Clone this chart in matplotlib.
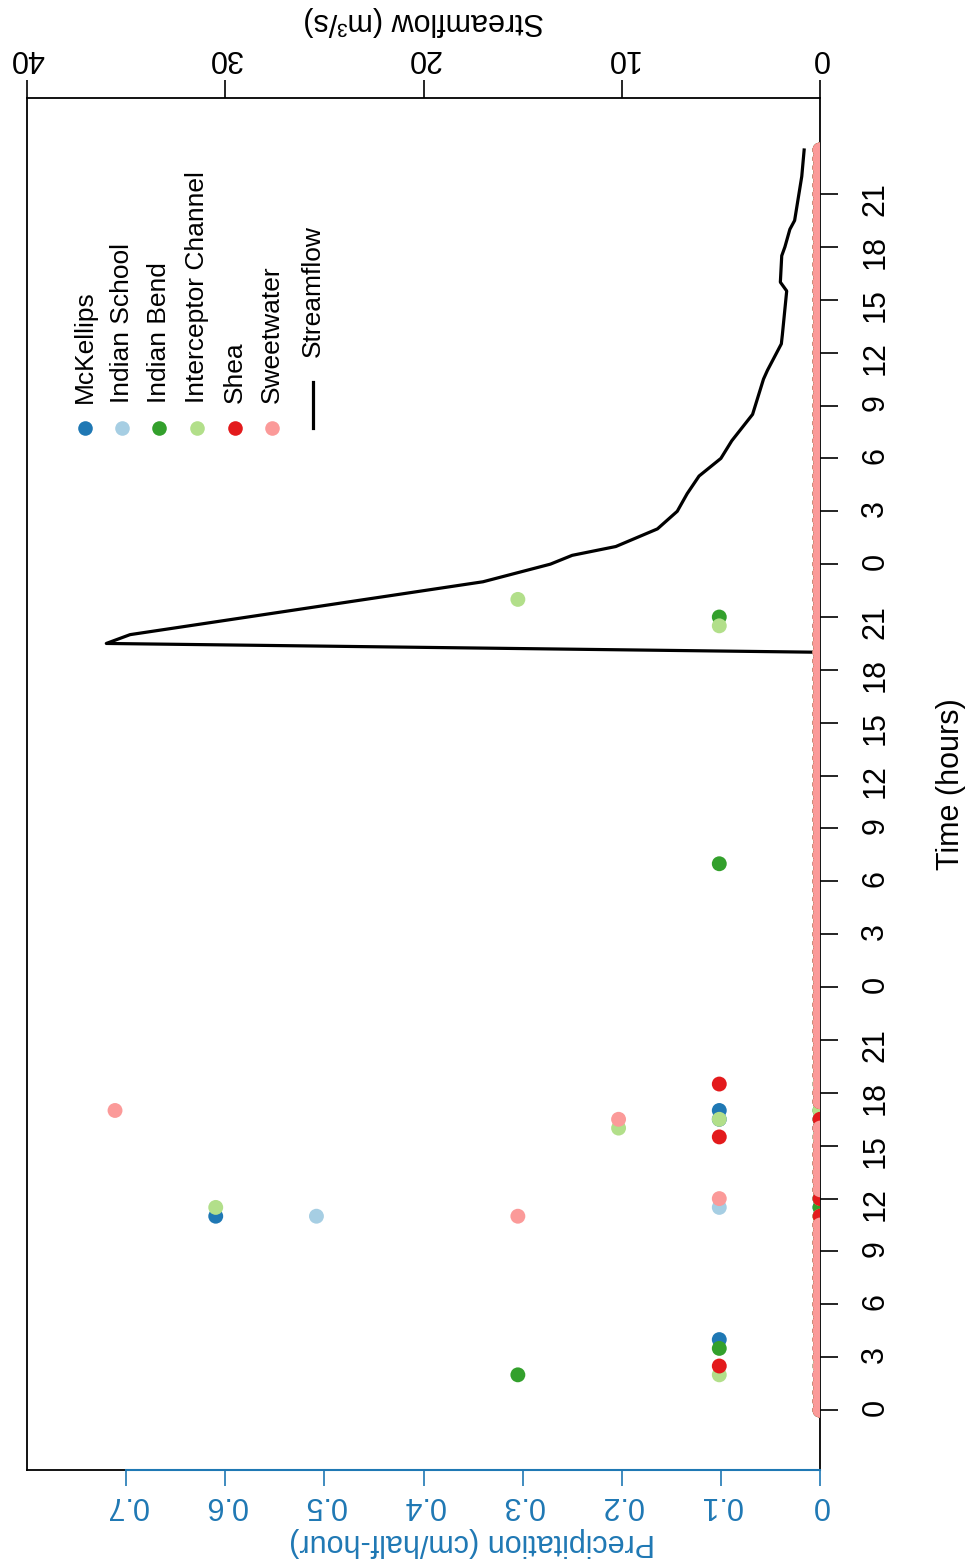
"""Rainfall at six gauges and streamflow, drawn turned on its side like the source figure."""

import matplotlib

matplotlib.use("Agg")
import matplotlib.pyplot as plt
import numpy as np

plt.rcParams["font.family"] = ["Liberation Sans", "DejaVu Sans"]

# Half-hourly time index (hours since midnight of day 1)
hours = np.arange(0, 72, 0.5)

# Non-zero gauge readings (cm per half hour); every other reading is 0
station_names = ["McKellips", "Indian School", "Indian Bend",
                 "Interceptor Channel", "Shea", "Sweetwater"]
station_colors = ["#1F78B4", "#A6CEE3", "#33A02C", "#B2DF8A", "#E31A1C", "#FB9A99"]

mckellips_hours = [4.0, 11.0, 16.5, 17.0]
mckellips_vals = [0.1016, 0.6096, 0.1016, 0.1016]
indian_school_hours = [11.0, 11.5]
indian_school_vals = [0.508, 0.1016]
indian_bend_hours = [2.0, 3.5, 31.0, 45.0]
indian_bend_vals = [0.3048, 0.1016, 0.1016, 0.1016]
interceptor_hours = [2.0, 11.5, 16.0, 16.5, 44.5, 46.0]
interceptor_vals = [0.1016, 0.6096, 0.2032, 0.1016, 0.1016, 0.3048]
shea_hours = [2.5, 15.5, 18.5]
shea_vals = [0.1016, 0.1016, 0.1016]
sweetwater_hours = [11.0, 12.0, 16.5, 17.0]
sweetwater_vals = [0.3048, 0.1016, 0.2032, 0.7112]

# Missing readings
shea_missing = [11.5, 17.0]
sweetwater_missing = [11.5]

# Streamflow (m3/s)
stream_hours = [0.0, 43.0, 43.5, 44.0, 47.0, 48.0, 48.5, 49.0, 50.0, 51.0, 52.0,
                53.0, 54.0, 55.0, 56.5, 58.5, 59.0, 60.5, 61.0, 63.5, 64.0, 65.5,
                66.0, 67.0, 67.5, 70.0, 71.5]
stream_flow = [0.0, 0.0, 36.0, 34.8, 17.0, 13.6, 12.5, 10.3, 8.2, 7.2, 6.7,
               6.1, 5.0, 4.45, 3.4, 2.85, 2.65, 1.95, 1.9, 1.68, 2.0, 1.93,
               1.77, 1.52, 1.28, 0.92, 0.8]

time_ticks = list(range(0, 70, 3))
time_labels = [str(t % 24) for t in time_ticks]
precip_ticks = [0, 0.1, 0.2, 0.3, 0.4, 0.5, 0.6, 0.7]
precip_labels = ["0", "0.1", "0.2", "0.3", "0.4", "0.5", "0.6", "0.7"]
flow_ticks = [0, 10, 20, 30, 40]


def station_series(nz_hours, nz_vals, missing=()):
    vals = np.zeros(len(hours))
    for h, v in zip(nz_hours, nz_vals):
        vals[np.isclose(hours, h)] = v
    for h in missing:
        vals[np.isclose(hours, h)] = np.nan
    return vals


series = [
    station_series(mckellips_hours, mckellips_vals),
    station_series(indian_school_hours, indian_school_vals),
    station_series(indian_bend_hours, indian_bend_vals),
    station_series(interceptor_hours, interceptor_vals),
    station_series(shea_hours, shea_vals, shea_missing),
    station_series(sweetwater_hours, sweetwater_vals, sweetwater_missing),
]

W, H = 972, 1566
BLUE = "#1F78B4"
FS = 22

fig = plt.figure(figsize=(W / 100, H / 100), dpi=100)
left, right, top, bottom = 27, 820, 98, 1470
ax = fig.add_axes([left / W, 1 - bottom / H, (right - left) / W, (bottom - top) / H])
ax2 = ax.twiny()

# Streamflow on the primary axes (top scale), drawn underneath the gauges
ax.plot(stream_flow, stream_hours, color="black", lw=2.3, zorder=2, solid_joinstyle="round")
ax.set_xlim(40, 0)
ax.set_ylim(-3.4, 74.45)
ax.xaxis.tick_top()
ax.xaxis.set_label_position("top")
ax.set_xticks(flow_ticks)
ax.tick_params(axis="x", direction="out", length=13, width=1.2, labelsize=FS,
               labelrotation=180, pad=5)
ax.yaxis.tick_right()
ax.set_yticks(time_ticks)
ax.set_yticklabels(time_labels)
ax.tick_params(axis="y", direction="out", length=13, width=1.2, labelsize=FS,
               labelrotation=90, pad=16)
for sp in ax.spines.values():
    sp.set_linewidth(1.3)
ax.set_xlabel("Streamflow (m³/s)", fontsize=FS, rotation=180, labelpad=10)
ax.yaxis.set_label_position("right")
ax.set_ylabel("Time (hours)", fontsize=FS, rotation=90, labelpad=33)

# Precipitation on the twin axes (bottom scale)
for i, vals in enumerate(series):
    ax2.scatter(vals, hours, s=115, color=station_colors[i], edgecolors="none",
                zorder=3 + i)
ax2.set_xlim(0.8, 0)
ax2.xaxis.tick_bottom()
ax2.xaxis.set_label_position("bottom")
ax2.set_xticks(precip_ticks)
ax2.set_xticklabels(precip_labels)
ax2.tick_params(axis="x", direction="out", length=11.5, width=1.2, labelsize=FS,
                labelrotation=180, colors=BLUE, pad=3)
ax2.set_xlabel("Precipitation (cm/half-hour)", fontsize=FS, rotation=180,
               color=BLUE, labelpad=5)
ax2.xaxis.label.set_x(0.561)
for sp in ax2.spines.values():
    sp.set_visible(False)
ax2.plot([0, 0.7], [0, 0], transform=ax2.get_xaxis_transform(), color=BLUE,
         lw=1.5, clip_on=False, zorder=20)

# Legend, turned on its side
leg_x = [85, 122, 159, 197, 235, 272]
for i, name in enumerate(station_names):
    fig.text(leg_x[i] / W, 1 - 403 / H, name, rotation=90, rotation_mode="anchor",
             ha="left", va="center", fontsize=19)
    fig.add_artist(plt.Line2D([leg_x[i] / W], [1 - 428 / H], marker="o", markersize=10.5,
                              color=station_colors[i], markeredgewidth=0,
                              transform=fig.transFigure))
fig.add_artist(plt.Line2D([313 / W, 313 / W], [1 - 382 / H, 1 - 428 / H], color="black",
                          lw=2.3, transform=fig.transFigure))
fig.text(313 / W, 1 - 357 / H, "Streamflow", rotation=90, rotation_mode="anchor",
         ha="left", va="center", fontsize=19)

fig.savefig("out.png", dpi=100)
